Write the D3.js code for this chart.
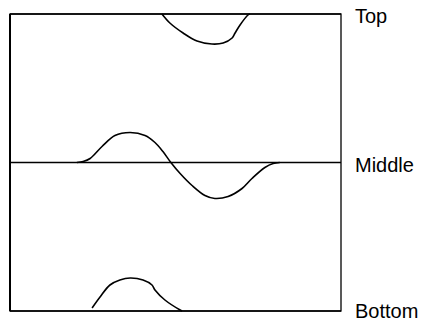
<!DOCTYPE html>
<meta charset="utf-8">
<script src="https://d3js.org/d3.v7.min.js"></script>
<style>
  body { margin: 0; background: #fff; }
</style>
<div id="chart"></div>
<script>
// Rows of the diagram, top to bottom
const rows = ["Top", "Middle", "Bottom"];

// Displacement of each wave (positive = up), sampled along the x axis (0-100)
const topX    = [45.9, 48.3, 52.3, 56.5, 61.0, 64.4, 67.1, 68.0, 69.5, 71.9, 72.5];
const topY    = [0, -9, -19, -27, -30, -29, -24, -19, -11, -1, 0];

const middleX = [20.2, 22.1, 24.2, 27.8, 31.7, 36.3, 40.8, 43.8, 46.2, 48.6, 51.4, 55.0, 58.9, 61.9, 65.9, 70.1, 73.1, 77.0, 79.5, 81.5];
const middleY = [0, 1, 4, 16, 27, 30, 27, 20, 11, 0, -11, -23, -33, -36, -34, -26, -16, -5, -1, 0];

const bottomX = [24.8, 27.2, 30.2, 33.2, 36.3, 40.2, 42.9, 43.8, 46.8, 51.4, 52.0];
const bottomY = [3, 14, 26, 31, 33, 31, 26, 21, 11, 1, 0];

const waves = [
  {row: "Top", xs: topX, ys: topY},
  {row: "Middle", xs: middleX, ys: middleY},
  {row: "Bottom", xs: bottomX, ys: bottomY}
];

const W = 424, H = 322;
const margin = {left: 10, right: 341, top: 14, bottom: 311};

const svg = d3.select("#chart")
  .append("svg")
  .attr("width", W)
  .attr("height", H);

const x = d3.scaleLinear().domain([0, 100]).range([margin.left, margin.right]);
const row = d3.scalePoint().domain(rows).range([margin.top, margin.bottom]);
const y = d3.scaleLinear().domain([-40, 40]).range([40, -40]);

// box
svg.append("rect")
  .attr("x", margin.left).attr("y", margin.top)
  .attr("width", margin.right - margin.left).attr("height", margin.bottom - margin.top)
  .attr("fill", "none")
  .attr("stroke", "#000")
  .attr("stroke-width", 1.3);

svg.append("line")
  .attr("x1", margin.left).attr("x2", margin.left)
  .attr("y1", margin.top).attr("y2", margin.bottom)
  .attr("stroke", "#000")
  .attr("stroke-width", 2);

// baselines
svg.selectAll(".base")
  .data(rows)
  .join("line")
    .attr("class", "base")
    .attr("x1", margin.left).attr("x2", margin.right)
    .attr("y1", d => row(d)).attr("y2", d => row(d))
    .attr("stroke", "#000")
    .attr("stroke-width", 1.5);

const line = d3.line()
  .x(d => x(d[0]))
  .y(d => y(d[1]))
  .curve(d3.curveCatmullRom);

svg.selectAll(".wave")
  .data(waves)
  .join("path")
    .attr("class", "wave")
    .attr("transform", d => `translate(0, ${row(d.row)})`)
    .attr("d", d => line(d.xs.map((v, i) => [v, d.ys[i]])))
    .attr("fill", "none")
    .attr("stroke", "#000")
    .attr("stroke-width", 1.6);

// labels (the bottom one is nudged up to stay inside the window)
svg.selectAll(".label")
  .data(rows)
  .join("text")
    .attr("class", "label")
    .attr("x", 355)
    .attr("y", (d, i) => row(d) + (i === 2 ? 7 : 9))
    .attr("font-family", "Liberation Sans, Arial, sans-serif")
    .attr("font-size", 20)
    .text(d => d);
</script>
